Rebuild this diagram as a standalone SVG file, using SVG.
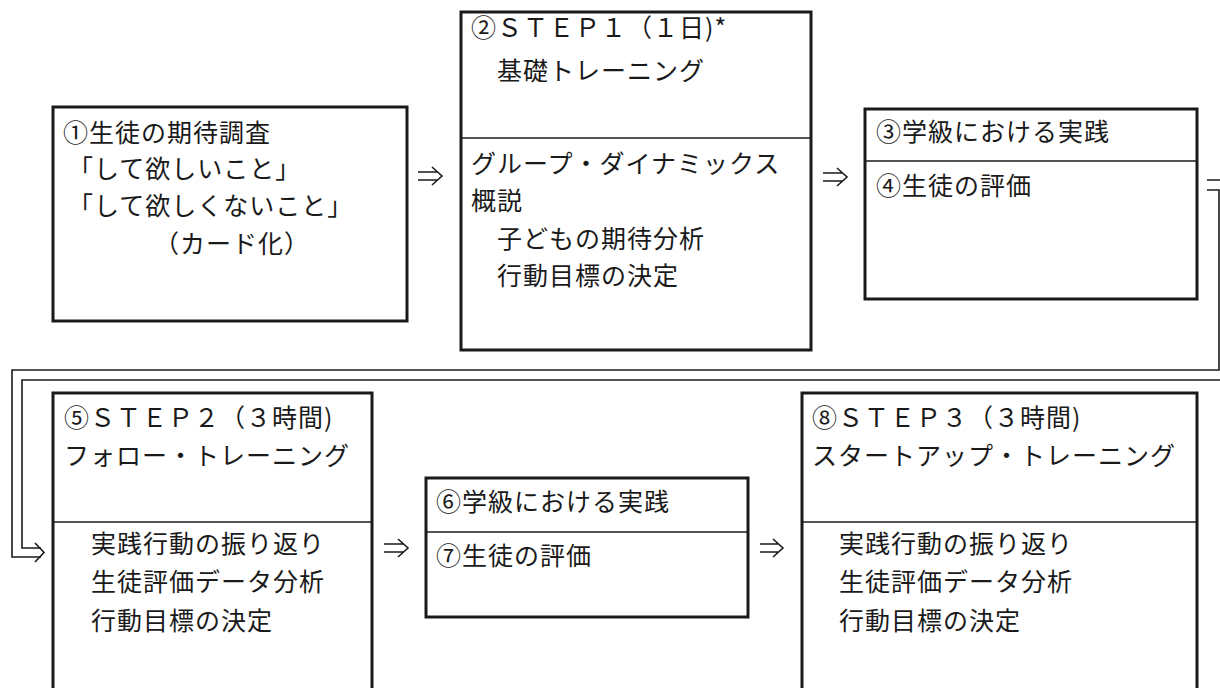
<svg xmlns="http://www.w3.org/2000/svg" width="1220" height="688" viewBox="0 0 1220 688">
<style>
.box{fill:none;stroke:#1a1a1a;stroke-width:3}
.div{stroke:#1a1a1a;stroke-width:1.5}
.t{font-family:"Noto Sans CJK JP","Noto Sans CJK SC",sans-serif;font-size:25px;letter-spacing:1px;fill:#1a1a1a}
.c{fill:none;stroke:#1a1a1a;stroke-width:1.6}
</style>
<rect width="1220" height="688" fill="#ffffff"/>
<g id="node1">
<rect class="box" x="53" y="107" width="354" height="214"/>
<text class="t" x="63" y="142">①生徒の期待調査</text>
<text class="t" x="68" y="178">「して欲しいこと」</text>
<text class="t" x="68" y="215">「して欲しくないこと」</text>
<text class="t" x="154" y="253">（カード化）</text>
</g>
<g id="node2">
<rect class="box" x="461" y="12" width="350" height="338"/>
<line class="div" x1="461" y1="138" x2="811" y2="138"/>
<text class="t" x="471" y="37">②ＳＴＥＰ１（１日)*</text>
<text class="t" x="497" y="80">基礎トレーニング</text>
<text class="t" x="471" y="173">グループ・ダイナミックス</text>
<text class="t" x="471" y="210">概説</text>
<text class="t" x="497" y="248">子どもの期待分析</text>
<text class="t" x="497" y="285">行動目標の決定</text>
</g>
<g id="node3">
<rect class="box" x="865" y="109" width="332" height="190"/>
<line class="div" x1="865" y1="161" x2="1197" y2="161"/>
<text class="t" x="876" y="141">③学級における実践</text>
<text class="t" x="876" y="195">④生徒の評価</text>
</g>
<g id="node5">
<rect class="box" x="53" y="393" width="319" height="320"/>
<line class="div" x1="53" y1="522" x2="372" y2="522"/>
<text class="t" x="64" y="427">⑤ＳＴＥＰ２（３時間)</text>
<text class="t" x="64" y="465">フォロー・トレーニング</text>
<text class="t" x="91" y="553">実践行動の振り返り</text>
<text class="t" x="91" y="591">生徒評価データ分析</text>
<text class="t" x="91" y="630">行動目標の決定</text>
</g>
<g id="node6">
<rect class="box" x="426" y="478" width="322" height="139"/>
<line class="div" x1="426" y1="532" x2="748" y2="532"/>
<text class="t" x="436" y="511">⑥学級における実践</text>
<text class="t" x="436" y="565">⑦生徒の評価</text>
</g>
<g id="node8">
<rect class="box" x="802" y="393" width="395" height="320"/>
<line class="div" x1="802" y1="522" x2="1197" y2="522"/>
<text class="t" x="812" y="427">⑧ＳＴＥＰ３（３時間)</text>
<text class="t" x="812" y="465">スタートアップ・トレーニング</text>
<text class="t" x="839" y="553">実践行動の振り返り</text>
<text class="t" x="839" y="591">生徒評価データ分析</text>
<text class="t" x="839" y="630">行動目標の決定</text>
</g>
<g id="connectors">
<path class="c" d="M418,172 H437 M418,180 H437 M432,167 L442,176 L432,185"/>
<path class="c" d="M823,173 H842 M823,181 H842 M837,168 L847,177 L837,186"/>
<path class="c" d="M384,544 H403 M384,552 H403 M398,539 L408,548 L398,557"/>
<path class="c" d="M760,544 H778 M760,552 H778 M773,539 L783,548 L773,557"/>
<path class="c" d="M1207,190 H1219 V370 H12 V557 H41"/>
<path class="c" d="M1207,180 H1230 V380 H22 V548 H41"/>
<path class="c" d="M35,543 L44,552.5 L35,562"/>
</g>
</svg>
